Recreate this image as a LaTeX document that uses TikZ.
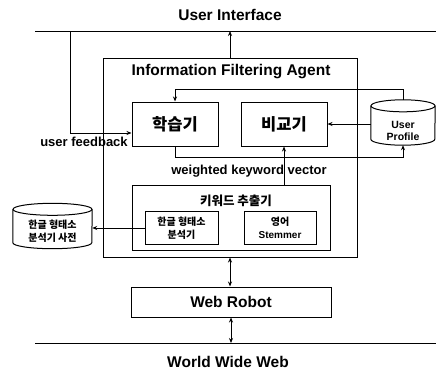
\documentclass[tikz,border=0pt]{standalone}
\usepackage{fontspec}
\setmainfont{Liberation Sans}
\newfontfamily\krfont{Noto Sans CJK KR}
\usetikzlibrary{arrows.meta,calc}
\tikzset{
  box/.style={draw,line width=1pt,inner sep=0pt},
  ghost/.style={inner sep=0pt},
  arr/.style={line width=0.8pt,-{Stealth[length=5pt,width=4pt]}},
  darr/.style={line width=0.8pt,{Stealth[length=5pt,width=4pt]}-{Stealth[length=5pt,width=4pt]}},
  ln/.style={line width=0.8pt},
  big/.style={font=\fontsize{15.5}{17}\selectfont\bfseries},
  mid/.style={font=\fontsize{13}{14}\selectfont\bfseries},
  kr/.style={font=\fontsize{16.5}{18}\selectfont\krfont\bfseries},
  small/.style={align=center,font=\fontsize{10}{12.5}\selectfont\bfseries},
}
\newcommand{\mycyl}[4]{% name, ry, half width, unused
  \draw[line width=1pt] ($(#1.north west)+(0,#2)$) -- ($(#1.south west)+(0,-#2)$)
    arc[start angle=180,end angle=360,x radius=#3pt,y radius=#2pt]
    -- ($(#1.north east)+(0,#2)$);
  \draw[line width=1pt] ($(#1.north)+(0,#2)$) ellipse[x radius=#3pt,y radius=#2pt];
}
\begin{document}
\begin{tikzpicture}[x=1pt,y=-1pt]
\useasboundingbox (0,0) rectangle (436,372);
% lines
\coordinate (uiL) at (35,31);
\coordinate (uiR) at (436,31);
\coordinate (wwL) at (35,343);
\coordinate (wwR) at (436,343);
\coordinate (fbtop) at (70,31);
\draw[ln] (uiL) -- (uiR);
\draw[ln] (wwL) -- (wwR);
\node[big] (uitext) at (230,15) {User Interface};
\node[big] (wwtext) at (228,362) {World Wide Web};
% agent
\node[box,minimum width=254,minimum height=199] (agent) at (230,157.5) {};
\node[big] (agtitle) at (231,72) {Information Filtering Agent};
\node[box,kr,minimum width=86,minimum height=44] (learn) at (175,124) {학습기};
\node[box,kr,minimum width=86,minimum height=44] (comp) at (284,124) {비교기};
% user profile
\node[ghost,minimum width=64,minimum height=45] (up) at (403,122.5) {};
\mycyl{up}{6}{32}{}
\node[small,font=\fontsize{10.5}{12}\selectfont\bfseries] (uptext) at (403,131) {User\\Profile};
% keyword extractor
\node[box,minimum width=198,minimum height=65] (kwbox) at (231,217.5) {};
\node[font=\fontsize{12.5}{14}\selectfont\krfont\bfseries] (kwt) at (236,201) {키워드 추출기};
\node[box,small,minimum width=73,minimum height=33,font=\fontsize{10}{12.5}\selectfont\krfont\bfseries] (han) at (181.5,228) {한글 형태소\\분석기};
\node[box,small,minimum width=72,minimum height=33] (eng) at (280,228) {{\krfont 영어}\\Stemmer};
% dictionary
\node[ghost,minimum width=79,minimum height=45] (dict) at (52.5,226) {};
\mycyl{dict}{6}{39.5}{}
\node[small,font=\fontsize{10}{12.5}\selectfont\krfont\bfseries] (dicttext) at (52.5,231) {한글 형태소\\분석기 사전};
% web robot
\node[box,big,minimum width=200,minimum height=30] (robot) at (231,302) {Web Robot};
% labels
\node[mid] (wkv) at (249,171) {weighted keyword vector};
\node[mid] (ufb) at (84,142) {user feedback};
% connectors
\draw[arr] (agent.north) -- (agent.north |- uiL);
\draw[arr] (fbtop) |- ($(learn.west)+(0,9)$);
\draw[arr] (up.north) -- ++(0,-10) -| (learn.north);
\draw[arr] (learn.south) -- ++(0,11) -| (up.south);
\draw[arr] (up.west |- comp.east) -- (comp.east);
\draw[arr] (comp.south |- kwbox.north) -- (comp.south);
\draw[arr] (han.west) -- (dict.east |- han.west);
\draw[darr] (agent.south) -- (agent.south |- robot.north);
\draw[darr] (robot.south) -- (robot.south |- wwL);
\end{tikzpicture}
\end{document}
